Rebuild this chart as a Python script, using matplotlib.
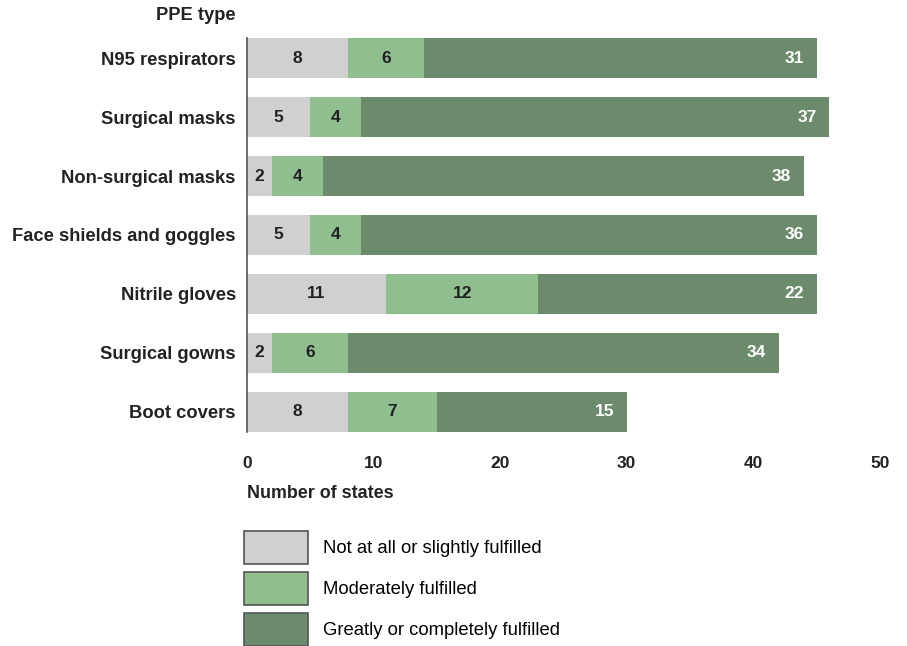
import matplotlib
matplotlib.use("Agg")
import matplotlib.pyplot as plt
from matplotlib.patches import Patch

plt.rcParams['font.family'] = ['Liberation Sans', 'DejaVu Sans']

# data
ppe_types = ["N95 respirators", "Surgical masks", "Non-surgical masks",
             "Face shields and goggles", "Nitrile gloves", "Surgical gowns",
             "Boot covers"]
not_fulfilled = [8, 5, 2, 5, 11, 2, 8]
moderately = [6, 4, 4, 4, 12, 6, 7]
greatly = [31, 37, 38, 36, 22, 34, 15]
series_names = ["Not at all or slightly fulfilled", "Moderately fulfilled",
                "Greatly or completely fulfilled"]
x_ticks = [0, 10, 20, 30, 40, 50]

colors = ["#d0d0d0", "#8fbe8f", "#6c8b6c"]

fig = plt.figure(figsize=(9.07, 6.46), dpi=100)
ax = fig.add_axes([0.2723, 0.3313, 0.6977, 0.6099])

ypos = list(range(len(ppe_types)))
h = 0.68
left2 = [a + b for a, b in zip(not_fulfilled, moderately)]

b1 = ax.barh(ypos, not_fulfilled, height=h, color=colors[0])
b2 = ax.barh(ypos, moderately, left=not_fulfilled, height=h, color=colors[1])
b3 = ax.barh(ypos, greatly, left=left2, height=h, color=colors[2])

ax.bar_label(b1, label_type='center', fontsize=12.5, fontweight='bold', color='#222222')
ax.bar_label(b2, label_type='center', fontsize=12.5, fontweight='bold', color='#222222')
# greatly labels sit near the bar end
for y, l, g in zip(ypos, left2, greatly):
    ax.annotate(str(g), (l + g, y), xytext=(-16, 0), textcoords='offset points',
                ha='center', va='center', fontsize=12.5, fontweight='bold', color='white')

ax.set_ylim(len(ppe_types) - 1 + h / 2, -h / 2)
ax.set_xlim(0, 50)
ax.set_yticks(ypos)
ax.set_yticklabels(ppe_types, fontsize=13.2, fontweight='bold', color='#222222')
ax.set_xticks(x_ticks)
ax.set_xticklabels([str(t) for t in x_ticks], fontsize=12.5, fontweight='bold', color='#222222')
ax.tick_params(axis='y', length=0, pad=8)
ax.tick_params(axis='x', length=0, pad=17)

for s in ['top', 'right', 'bottom']:
    ax.spines[s].set_visible(False)
ax.spines['left'].set_color('#555555')
ax.spines['left'].set_linewidth(1.2)

fig.text(236 / 907, 1 - 16 / 646, "PPE type", ha='right', va='center',
         fontsize=13.2, fontweight='bold', color='#222222')
fig.text(247 / 907, 1 - 493 / 646, "Number of states", ha='left', va='center',
         fontsize=12.9, fontweight='bold', color='#222222')

handles = [Patch(facecolor=c, edgecolor='#555555', linewidth=1.2) for c in colors]
fig.legend(handles, series_names, loc='upper left',
           bbox_to_anchor=(236.5 / 907, 1 - 523.5 / 646), frameon=False,
           fontsize=13.3, handlelength=3.46, handleheight=2.37,
           labelspacing=0.43, handletextpad=0.8, borderaxespad=0)

fig.savefig("out.png", dpi=100)
